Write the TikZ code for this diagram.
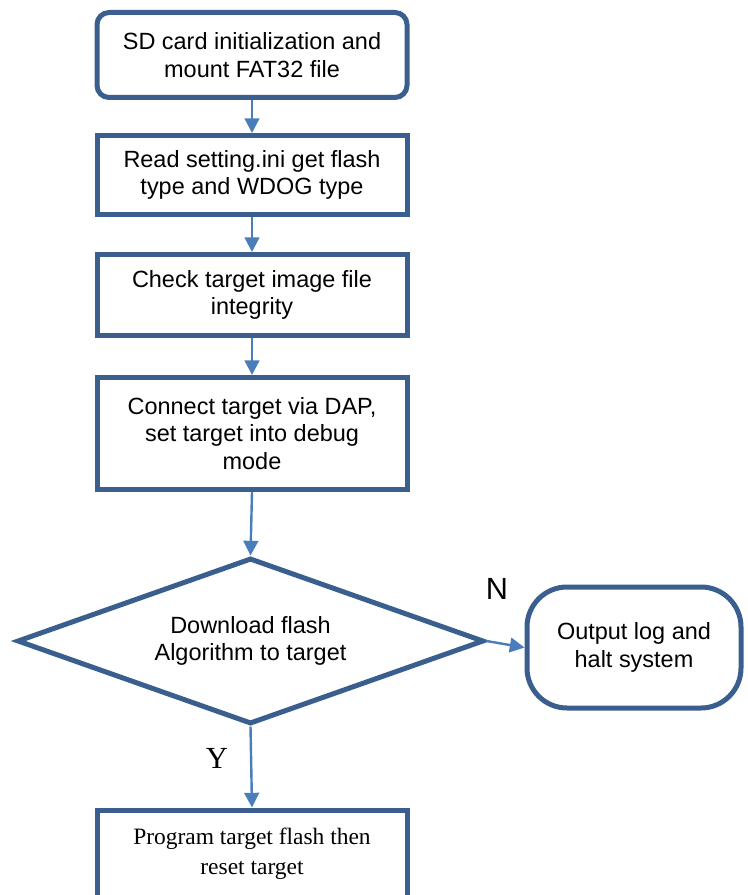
\documentclass[tikz,border=0pt]{standalone}
\usepackage{fontspec}
\setmainfont{Liberation Serif}
\setsansfont{Liberation Sans}
\usetikzlibrary{arrows.meta,shapes.geometric}
\definecolor{boxblue}{HTML}{3A5F8E}
\definecolor{arrowblue}{HTML}{4A7EBB}

\begin{document}
\begin{tikzpicture}[
  x=0.75pt,y=-0.75pt,
  font=\sffamily\fontsize{17.6}{20.5}\selectfont,
  stepbox/.style={draw=boxblue,line width=3.75pt,minimum width=232.5pt,align=center,inner sep=0pt},
  decision/.style={diamond,aspect=2.8,draw=boxblue,line width=3.75pt,minimum width=350pt,minimum height=124.5pt,align=center,inner sep=0pt},
  terminal/.style={draw=boxblue,line width=3.75pt,rounded corners=30pt,minimum width=160.5pt,minimum height=90.75pt,align=center,inner sep=0pt},
  flow/.style={draw=arrowblue,line width=1.8pt,-{Triangle[length=11pt,width=11pt]}},
  answer/.style={font=\sffamily\fontsize{23}{25}\selectfont}
]
  \useasboundingbox (0,0) rectangle (747,895);

  \node[stepbox,rounded corners=9pt,minimum height=63.75pt] (mount) at (252,55) {SD card initialization and\\mount FAT32 file};
  \node[stepbox,minimum height=59.25pt] (readini) at (252,175) {Read setting.ini get flash\\type and WDOG type};
  \node[stepbox,minimum height=60.75pt] (check) at (252,295) {Check target image file\\integrity};
  \node[stepbox,minimum height=84pt] (connect) at (252,433.5) {Connect target via DAP,\\set target into debug\\mode};
  \node[decision] (download) at (250.5,641) {Download flash\\Algorithm to target};
  \node[terminal] (halt) at (634,647.5) {Output log and\\halt system};
  \node[stepbox,minimum height=66pt,font=\rmfamily\fontsize{17.6}{22.5}\selectfont] (program) at (252,854) {Program target flash then\\reset target};

  \node[answer] (no) at (497,589) {N};
  \node[answer,font=\rmfamily\fontsize{23}{25}\selectfont] (yes) at (217,758) {Y};

  \draw[flow] (mount) -- (readini);
  \draw[flow] (readini) -- (check);
  \draw[flow] (check) -- (connect);
  \draw[flow] (connect.south) -- (download.north);
  \draw[flow] (download.east) -- (halt.west);
  \draw[flow] (download.south) -- (program.north);
\end{tikzpicture}
\end{document}
